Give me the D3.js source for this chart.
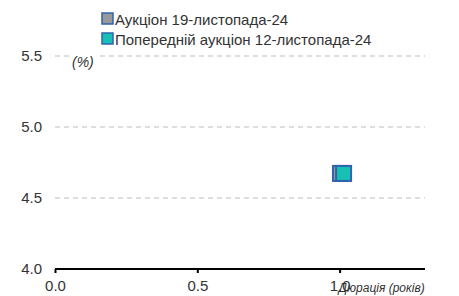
<!DOCTYPE html>
<html>
<head>
<meta charset="utf-8">
<script src="https://cdn.jsdelivr.net/npm/d3@7"></script>
<style>
  body { margin: 0; background: #fff; }
  text { font-family: "Liberation Sans", Arial, sans-serif; fill: #333; }
</style>
</head>
<body>
<svg class="chart"></svg>
<script>
var seriesNames = ['Аукціон 19-листопада-24', 'Попередній аукціон 12-листопада-24'];
var seriesColors = ['#999999', '#17bfb4'];
var durations = [1.003, 1.014];
var yields = [4.673, 4.673];
var yTicks = [4.0, 4.5, 5.0, 5.5];
var xTicks = [0.0, 0.5, 1.0];

var svgwidth = 459, svgheight = 296;
var margins = { top: 56, bottom: 27, left: 55, right: 34 };
var width = svgwidth - margins.left - margins.right;
var height = svgheight - margins.top - margins.bottom;

var svg = d3.select('.chart').attr('width', svgwidth).attr('height', svgheight);
var g = svg.append('g').attr('transform', 'translate(' + margins.left + ',' + margins.top + ')');

var xScale = d3.scaleLinear().domain([0, 1.3]).range([0, width]);
var yScale = d3.scaleLinear().domain([4.0, 5.5]).range([height, 0]);

// grid
g.selectAll('.grid').data(yTicks.filter(function(d){ return d > 4.0; })).enter()
  .append('line')
  .attr('x1', 0).attr('x2', width)
  .attr('y1', function(d){ return yScale(d); })
  .attr('y2', function(d){ return yScale(d); })
  .attr('stroke', '#bdbdbd').attr('stroke-width', 1)
  .attr('stroke-dasharray', '5,4');

// y labels
g.selectAll('.ylab').data(yTicks).enter()
  .append('text')
  .attr('x', -13).attr('y', function(d){ return yScale(d) + 5; })
  .attr('text-anchor', 'end').style('font-size', '15px')
  .text(function(d){ return d3.format('.1f')(d); });

// (%) label with white background
var pct = g.append('g').attr('transform', 'translate(17,' + (yScale(5.5) + 10) + ')');
pct.append('rect').attr('x', -1).attr('y', -12).attr('width', 27).attr('height', 18).attr('fill', '#fff');
pct.append('text').style('font-size', '14px').style('font-style', 'italic').attr('y', 1).text('(%)');

// x axis
var xAxis = d3.axisBottom(xScale).tickValues(xTicks).tickSize(4).tickFormat(d3.format('.1f'));
var ax = g.append('g').attr('transform', 'translate(0,' + height + ')').call(xAxis);
ax.select('.domain').attr('stroke', '#000').attr('stroke-width', 2).attr('d', 'M0,0H' + width);
ax.selectAll('.tick line').attr('stroke', '#000').attr('stroke-width', 2);
ax.selectAll('.tick text').style('font-size', '15px').attr('dy', '0.72em').attr('y', 11).attr('fill', '#333');

g.append('text')
  .attr('x', xScale(1.0) - 1).attr('y', height + 23)
  .style('font-size', '12px').style('font-style', 'italic')
  .text('Дюрація (років)');

// points
var sz = 15;
g.selectAll('.pt').data(durations).enter()
  .append('rect')
  .attr('x', function(d){ return xScale(d) - sz / 2; })
  .attr('y', function(d, i){ return yScale(yields[i]) - sz / 2; })
  .attr('width', sz).attr('height', sz)
  .attr('fill', function(d, i){ return seriesColors[i]; })
  .attr('stroke', '#2f63ae').attr('stroke-width', 2);

// legend
var leg = svg.append('g').attr('transform', 'translate(102,13)');
seriesNames.forEach(function(name, i){
  var row = leg.append('g').attr('transform', 'translate(0,' + (i * 20) + ')');
  row.append('rect').attr('width', 11).attr('height', 11)
    .attr('fill', seriesColors[i]).attr('stroke', '#2f63ae').attr('stroke-width', 1.5);
  row.append('text').attr('x', 13).attr('y', 11.5).style('font-size', '15px').text(name);
});
</script>
</body>
</html>
